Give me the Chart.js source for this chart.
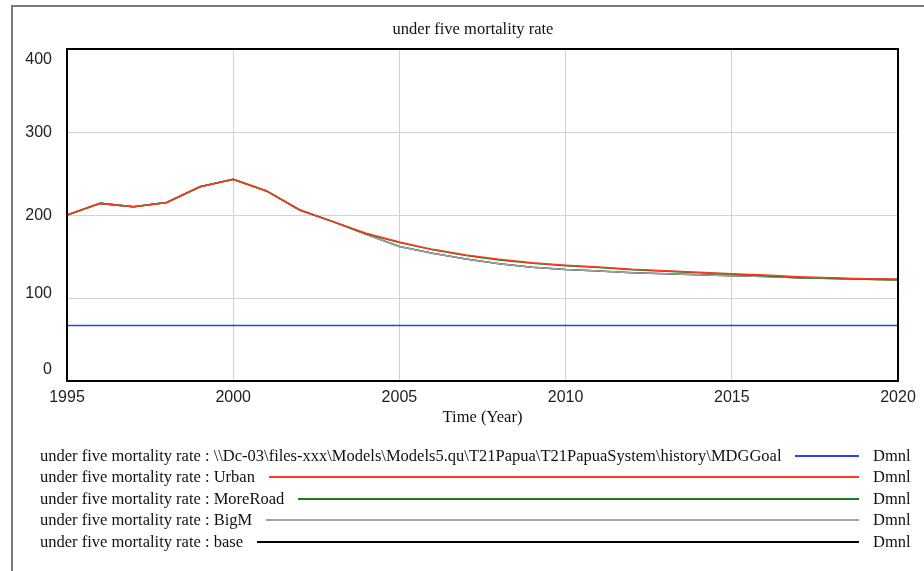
<!DOCTYPE html>
<html>
<head>
<meta charset="utf-8">
<script src="https://cdn.jsdelivr.net/npm/chart.js@4.4.1/dist/chart.umd.min.js"></script>
<style>
  html, body { margin: 0; padding: 0; background: #fff; }
  #wrap { position: relative; width: 924px; height: 571px; overflow: hidden; }
  #frame { position: absolute; left: 11px; top: 5px; width: 1000px; height: 700px;
           border-left: 2px solid #7a7a7a; border-top: 2px solid #7a7a7a; }
  #chart { position: absolute; left: 0; top: 0; }
  #legend { position: absolute; left: 40px; top: 445px; width: 870px;
            font-family: "Liberation Serif", "Times New Roman", serif; font-size: 16.5px; color: #111; }
  .row { display: flex; align-items: center; height: 21.5px; white-space: nowrap; }
  .row .ln { flex: 1; height: 0; margin: 0 14px; }
  .row .unit { width: 37px; }
</style>
</head>
<body>
<div id="wrap">
  <div id="frame"></div>
  <canvas id="chart" width="924" height="571"></canvas>
  <div id="legend"></div>
</div>
<script>
// Years of the simulation run
const years = [1995, 1996, 1997, 1998, 1999, 2000, 2001, 2002, 2003, 2004, 2005, 2006, 2007,
               2008, 2009, 2010, 2011, 2012, 2013, 2014, 2015, 2016, 2017, 2018, 2019, 2020];

// under five mortality rate per scenario
const mdgGoal = [67, 67, 67, 67, 67, 67, 67, 67, 67, 67, 67, 67, 67,
                 67, 67, 67, 67, 67, 67, 67, 67, 67, 67, 67, 67, 67];
const urban = [200, 214, 210, 215, 234, 243, 229, 206, 192, 178, 167.5, 158.6, 151.8,
               146.6, 142.6, 139.6, 137.3, 134.5, 132.9, 130.9, 129.3, 127.7, 125.7, 124.5, 123.3, 122.9];
const moreRoad = [200, 214, 210, 215, 234, 243, 229, 206, 192, 177.5, 166.8, 158, 151.1,
                  145.9, 141.9, 138.9, 136.6, 133.9, 132.3, 130.3, 128.6, 126.9, 124.8, 123.7, 122.7, 122.1];
const bigM = [200, 214, 210, 215, 234, 243, 229, 206, 192, 176.8, 162, 153.8, 147,
              141.3, 137, 134.3, 132.5, 130.5, 129.3, 128.1, 126.9, 126, 124.5, 123.5, 122.6, 122];
const base = [200, 214, 210, 215, 234, 243, 229, 206, 192, 176.8, 162, 153.8, 147,
              141.3, 137, 134.3, 132.5, 130.5, 129.3, 128.1, 126.9, 126, 124.5, 123.5, 122.6, 122];

const yTicks = [0, 100, 200, 300, 400];
const xTicks = [1995, 2000, 2005, 2010, 2015, 2020];

const prefix = 'under five mortality rate : ';
const seriesNames = ['\\\\Dc-03\\files-xxx\\Models\\Models5.qu\\T21Papua\\T21PapuaSystem\\history\\MDGGoal',
                     'Urban', 'MoreRoad', 'BigM', 'base'];
const seriesValues = [mdgGoal, urban, moreRoad, bigM, base];
const seriesColors = ['#2244ff', '#ff3b1f', '#1b7d1b', '#a3a3a3', '#000000'];
const unitLabel = 'Dmnl';

const serif = 'Liberation Serif';

const datasets = seriesValues.map((vals, i) => ({
  label: prefix + seriesNames[i],
  data: years.map((yr, k) => ({ x: yr, y: vals[k] })),
  borderColor: seriesColors[i],
  backgroundColor: seriesColors[i],
  borderWidth: 1.5,
  pointRadius: 0,
  tension: 0,
  fill: false
}));

// Plot frame drawn around the whole chart area
const plotFrame = {
  id: 'plotFrame',
  afterDatasetsDraw(chart) {
    const { ctx, chartArea: a } = chart;
    ctx.save();
    ctx.strokeStyle = '#000';
    ctx.lineWidth = 2;
    ctx.strokeRect(a.left, a.top, a.right - a.left, a.bottom - a.top);
    ctx.restore();
  }
};

// Centre the heading a little right of the canvas middle
const titleShift = {
  id: 'titleShift',
  afterLayout(chart) {
    if (chart.titleBlock) chart.titleBlock.left += 26;
  }
};

// Pull the outermost value labels inside the plot height
const yLabelNudge = { 400: 11, 300: 1, 200: 1, 100: -4, 0: -11 };
const nudgeYLabels = {
  id: 'nudgeYLabels',
  beforeDraw(chart) {
    const s = chart.scales.y;
    const items = s.getLabelItems();
    items.forEach((it, i) => {
      const v = s.ticks[i] ? s.ticks[i].value : null;
      if (v !== null && yLabelNudge[v] !== undefined && !it._nudged) {
        it.options.translation[1] += yLabelNudge[v];
        it._nudged = true;
      }
    });
  }
};

new Chart(document.getElementById('chart'), {
  type: 'line',
  data: { datasets },
  plugins: [plotFrame, titleShift, nudgeYLabels],
  options: {
    responsive: false,
    animation: false,
    devicePixelRatio: 1,
    layout: { padding: { left: 22, right: 26, top: 0, bottom: 138 } },
    plugins: {
      legend: { display: false },
      tooltip: { enabled: false },
      title: {
        display: true,
        text: 'under five mortality rate',
        color: '#111',
        font: { family: serif, size: 16.5, weight: 'normal', lineHeight: 1.2 },
        padding: { top: 20, bottom: 9.2 }
      }
    },
    scales: {
      x: {
        type: 'linear',
        min: years[0],
        max: years[years.length - 1],
        afterBuildTicks(scale) { scale.ticks = xTicks.map(v => ({ value: v })); },
        afterFit(scale) { scale.height = 52; },
        ticks: {
          color: '#222',
          padding: 7,
          maxRotation: 0,
          font: { family: 'Liberation Sans', size: 16 },
          callback: v => String(v)
        },
        grid: { color: '#d2d2d2', lineWidth: 1, drawTicks: false },
        border: { display: true, color: '#000', width: 2 },
        title: {
          display: true,
          text: 'Time (Year)',
          color: '#111',
          font: { family: serif, size: 16.5, lineHeight: 1.2 },
          padding: { top: 0, bottom: 5 }
        }
      },
      y: {
        min: 0,
        max: 400,
        afterBuildTicks(scale) { scale.ticks = yTicks.map(v => ({ value: v })); },
        afterFit(scale) { scale.width = 45; },
        ticks: {
          color: '#222',
          padding: 15,
          font: { family: 'Liberation Sans', size: 16 },
          callback: v => String(v)
        },
        grid: { color: '#d2d2d2', lineWidth: 1, drawTicks: false },
        border: { display: true, color: '#000', width: 2 }
      }
    }
  }
});

// Legend rows: series name, line sample, unit
const legend = document.getElementById('legend');
seriesNames.forEach((name, i) => {
  const row = document.createElement('div');
  row.className = 'row';
  const txt = document.createElement('span');
  txt.textContent = prefix + name;
  const ln = document.createElement('div');
  ln.className = 'ln';
  ln.style.borderTop = '2px solid ' + seriesColors[i];
  const unit = document.createElement('span');
  unit.className = 'unit';
  unit.textContent = unitLabel;
  row.appendChild(txt);
  row.appendChild(ln);
  row.appendChild(unit);
  legend.appendChild(row);
});
</script>
</body>
</html>
